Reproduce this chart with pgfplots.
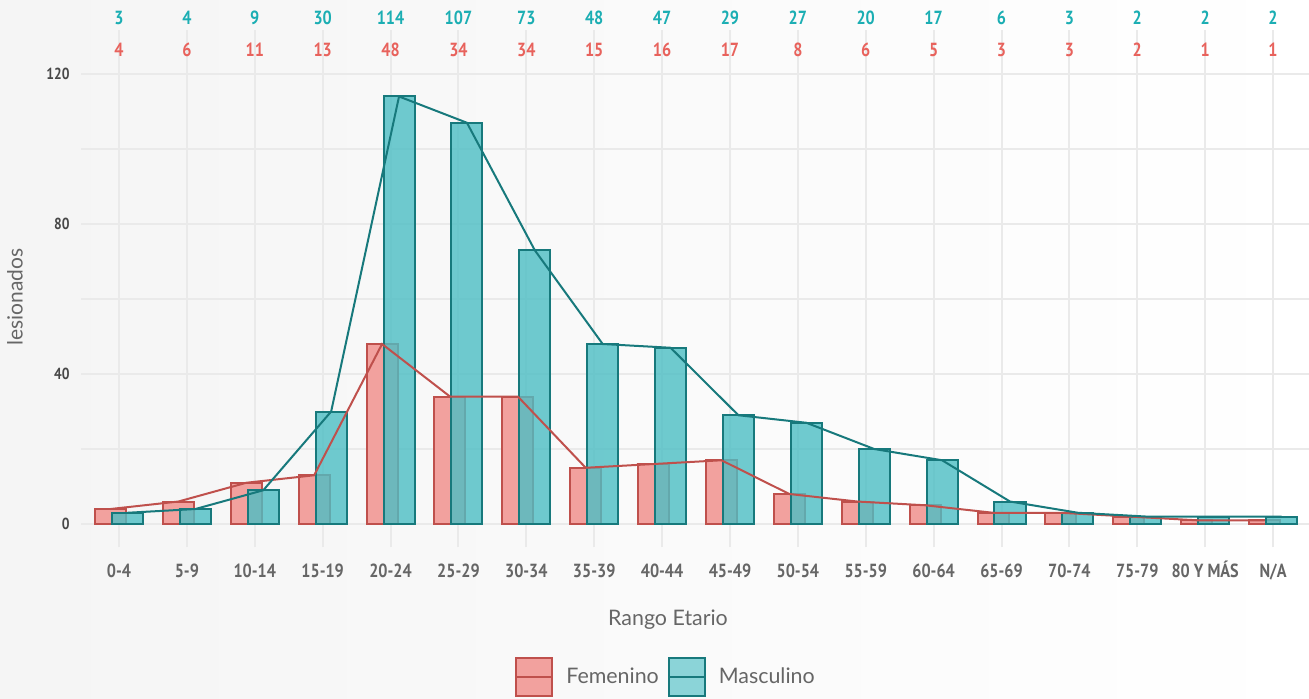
\documentclass[border=0pt]{standalone}
\usepackage{fontspec}
\setmainfont{Lato}
\newfontfamily\tickfont[FakeStretch=0.85]{PT Sans}
\usepackage{pgfplots}
\pgfplotsset{compat=1.18}
\usepackage{pgfplotstable}
\definecolor{ffill}{HTML}{F2A19E}
\definecolor{fedge}{HTML}{BF504C}
\definecolor{mfill}{HTML}{4CBEC4}
\definecolor{mfillop}{HTML}{70CBD0}
\definecolor{medge}{HTML}{17797C}
\definecolor{flab}{HTML}{E8625C}
\definecolor{mlab}{HTML}{1BAEB3}
\definecolor{gridc}{HTML}{EAEAEA}
\definecolor{txtgray}{HTML}{666666}
\definecolor{ytxt}{HTML}{474747}

\pgfplotstableread{
x f m
0 4 3
1 6 4
2 11 9
3 13 30
4 48 114
5 34 107
6 34 73
7 15 48
8 16 47
9 17 29
10 8 27
11 6 20
12 5 17
13 3 6
14 3 3
15 2 2
16 1 2
17 1 2
}\data

\begin{document}
\begin{tikzpicture}
\shade[left color=black!4, right color=white] (0,0) rectangle (654.5pt,349pt);
\useasboundingbox (0,0) rectangle (654.5pt,349pt);
\begin{axis}[
  at={(40.5pt,75.5pt)}, anchor=south west,
  scale only axis, width=614pt, height=258.5pt,
  xmin=-0.56, xmax=17.53, ymin=-6.13, ymax=131.73,
  axis line style={draw=none},
  major tick length=0pt, minor tick length=0pt,
  xtick={0,...,17},
  xticklabels={0-4,5-9,10-14,15-19,20-24,25-29,30-34,35-39,40-44,45-49,50-54,55-59,60-64,65-69,70-74,75-79,80 Y MÁS,N/A},
  ytick={0,40,80,120},
  minor ytick={20,60,100},
  xmajorgrids, ymajorgrids, yminorgrids,
  grid style={gridc, line width=1pt},
  minor grid style={gridc, line width=1pt},
  /pgf/number format/assume math mode=true,
  xticklabel style={anchor=base, inner sep=0pt, yshift=-15pt, text=txtgray, font=\tickfont\bfseries\fontsize{9.5}{11}\selectfont},
  yticklabel style={anchor=east, inner sep=0pt, xshift=-5.5pt, text=ytxt, font=\tickfont\bfseries\fontsize{8}{9}\selectfont},
  clip=false,
  bar width=0.457,
  legend style={at={(axis description cs:0.4772,-0.2515)}, anchor=center, draw=none, fill=none,
    legend columns=2, font=\fontsize{10.7}{12}\selectfont, text=txtgray,
    /tikz/every odd column/.append style={column sep=4.5pt},
    /tikz/every even column/.append style={column sep=2.5pt}},
  legend cell align=left,
]
\addplot[ybar, bar shift=0pt, fill=ffill, draw=fedge, line width=1pt,
  legend image code/.code={\draw[draw=fedge, fill=ffill, line width=1pt] (0pt,-9.5pt) rectangle (18pt,9.5pt); \draw[fedge, line width=1pt] (0pt,0pt) -- (18pt,0pt);}]
  table[x expr=\thisrow{x}-0.125, y=f]{\data};
\addlegendentry{Femenino}
\addplot[ybar, bar shift=0pt, fill=mfill, fill opacity=0.8, draw=medge, line width=1pt,
  legend image code/.code={\draw[draw=medge, fill=mfillop, line width=1pt] (0pt,-9.5pt) rectangle (18pt,9.5pt); \draw[medge, line width=1pt] (0pt,0pt) -- (18pt,0pt);}]
  table[x expr=\thisrow{x}+0.125, y=m]{\data};
\addlegendentry{Masculino}
\addplot[fedge, line width=1pt, mark=none, forget plot] table[x expr=\thisrow{x}-0.125, y=f]{\data};
\addplot[medge, line width=1pt, mark=none, forget plot] table[x expr=\thisrow{x}+0.125, y=m]{\data};
\addplot[draw=none, mark=none, forget plot, nodes near coords, point meta=explicit,
  every node near coord/.style={anchor=center, text=mlab, font=\tickfont\bfseries\fontsize{9.5}{11}\selectfont}]
  table[x=x, y expr=134.9, meta=m]{\data};
\addplot[draw=none, mark=none, forget plot, nodes near coords, point meta=explicit,
  every node near coord/.style={anchor=center, text=flab, font=\tickfont\bfseries\fontsize{9.5}{11}\selectfont}]
  table[x=x, y expr=126.4, meta=f]{\data};
\end{axis}
\node[rotate=90, text=txtgray, font=\fontsize{10.5}{12}\selectfont] at (7.5pt,200.5pt) {lesionados};
\node[text=txtgray, font=\fontsize{10.7}{12}\selectfont] at (334pt,39pt) {Rango Etario};
\end{tikzpicture}
\end{document}
